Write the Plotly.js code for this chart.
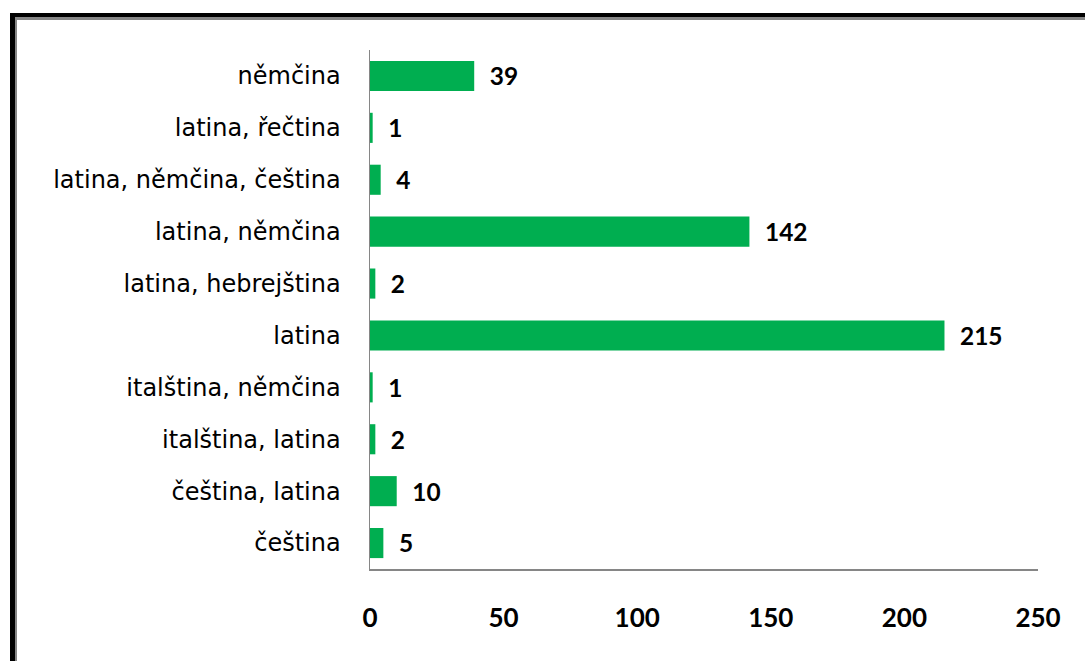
<!DOCTYPE html>
<html><head><meta charset="utf-8">
<script src="https://cdn.plot.ly/plotly-3.0.1.min.js"></script>
<style>
html,body{margin:0;padding:0;background:#fff;}
#wrap{position:relative;width:1085px;height:661px;overflow:hidden;}
#chart{position:absolute;left:0;top:0;width:1085px;height:661px;}
.b{position:absolute;pointer-events:none;}
</style></head><body>
<div id="wrap">
<div id="chart"></div>
<div class="b" style="left:10px;top:13px;width:1100px;height:4px;background:#000;"></div>
<div class="b" style="left:15px;top:17px;width:1100px;height:3px;background:#868686;"></div>
<div class="b" style="left:10px;top:13px;width:5px;height:700px;background:#000;"></div>
<div class="b" style="left:15px;top:17px;width:2px;height:700px;background:#868686;"></div>
</div>
<script>
const categories = ["čeština","čeština, latina","italština, latina","italština, němčina","latina","latina, hebrejština","latina, němčina","latina, němčina, čeština","latina, řečtina","němčina"];
const values = [5,10,2,1,215,2,142,4,1,39];
const xTicks = [0,50,100,150,200,250];

const numFont = "Lato, 'Open Sans', sans-serif";
const catFont = "'DejaVu Sans', sans-serif";
const trace = {
  type:"bar", orientation:"h", y:categories, x:values,
  marker:{color:"#00AE50"},
  text: values.map(v=>"<b>"+v+"</b>"),
  textposition:"outside", texttemplate:"  %{text}",
  textfont:{family:numFont,size:26,color:"#000"},
  cliponaxis:false, hoverinfo:"none"
};
const layout = {
  width:1085, height:661,
  margin:{l:370,r:47,t:50,b:92},
  paper_bgcolor:"#fff", plot_bgcolor:"#fff",
  bargap:0.42, showlegend:false,
  font:{family:numFont,color:"#000"},
  xaxis:{range:[0,250], tickvals:xTicks, ticktext:xTicks.map(v=>"<b>"+v+"</b>"),
    showgrid:false, zeroline:false, showline:true, linecolor:"#868686", linewidth:1.5,
    ticks:"", ticklabelstandoff:25, tickfont:{family:numFont,size:26,color:"#000"}, fixedrange:true},
  yaxis:{type:"category", categoryorder:"array", categoryarray:categories,
    showgrid:false, zeroline:false, showline:true, linecolor:"#868686", linewidth:1.5,
    ticks:"", ticklabelstandoff:23, tickfont:{family:catFont,size:24,color:"#000"}, fixedrange:true}
};
Plotly.newPlot("chart",[trace],layout,{displayModeBar:false,staticPlot:true});
</script>
</body></html>
